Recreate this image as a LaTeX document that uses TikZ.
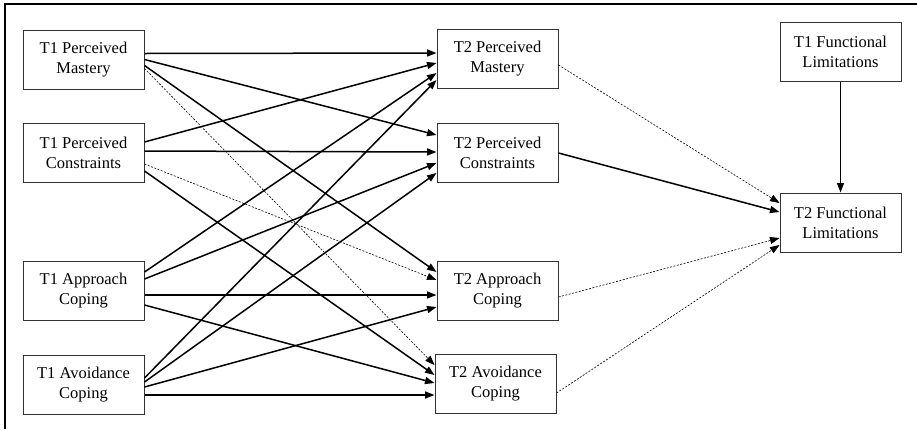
\documentclass[tikz,border=0pt]{standalone}
\usepackage{fontspec}
\setmainfont{Liberation Serif}
\usetikzlibrary{arrows.meta}
\usetikzlibrary{calc}
\tikzset{
	varnode/.style = {align=center, inner sep=0pt, text centered,
		font=\fontsize{16.5}{20}\selectfont},
	var_box/.style = {varnode, rectangle, draw=black!80, line width=1pt,
		minimum width=121pt, minimum height=59pt},% boite de variable
	path_s/.style = {->, line width=1.5pt},% chemin significatif
	path_ns/.style = {->, dash pattern=on 2pt off 1.5pt, line width=0.6pt}% chemin non significatif
}

\begin{document}
\begin{tikzpicture}[x=1pt,y=-1pt,>={Triangle[length=9.5pt,width=7pt]}]
		\useasboundingbox (0,0) rectangle (917,429);
		\draw[line width=2.3pt] (917,4) -- (5,4) -- (5,429);
		% temps 1
		\node[var_box] (pm1) at (83.5,59.5) {T1 Perceived\\Mastery};
		\node[var_box] (pc1) at (83.5,153) {T1 Perceived\\Constraints};
		\node[var_box] (ac1) at (83.5,291) {T1 Approach\\Coping};
		\node[var_box] (av1) at (83.5,384.5) {T1 Avoidance\\Coping};
		% temps 2
		\node[var_box] (pm2) at (497.5,58.5) {T2 Perceived\\Mastery};
		\node[var_box] (pc2) at (497.5,152.5) {T2 Perceived\\Constraints};
		\node[var_box] (ac2) at (497.5,291) {T2 Approach\\Coping};
		\node[var_box] (av2) at (495.5,383.5) {T2 Avoidance\\Coping};
		% limitations
		\node[var_box] (fl1) at (840.5,51.5) {T1 Functional\\Limitations};
		\node[var_box] (fl2) at (840.5,222.5) {T2 Functional\\Limitations};
		
		\draw[path_s] ($(pm1.east)+(0,-6)$) -- ($(pm2.west)+(0,-5.5)$);
		\draw[path_s] ($(pm1.east)+(0,0)$) -- ($(pc2.west)+(0,-17.5)$);
		\draw[path_s] ($(pm1.east)+(0,6)$) -- ($(ac2.west)+(0,-19)$);
		\draw[path_ns] ($(pm1.east)+(0,9)$) -- ($(av2.west)+(0,-18.5)$);
		
		\draw[path_s] ($(pc1.east)+(0,-11)$) -- ($(pm2.west)+(0,4.5)$);
		\draw[path_s] ($(pc1.east)+(0,-2)$) -- ($(pc2.west)+(0,-0.5)$);
		\draw[path_ns] ($(pc1.east)+(0,11)$) -- ($(ac2.west)+(0,-11)$);
		\draw[path_s] ($(pc1.east)+(0,18)$) -- ($(av2.west)+(0,-8.5)$);
		
		\draw[path_s] ($(ac1.east)+(0,-19)$) -- ($(pm2.west)+(0,14.5)$);
		\draw[path_s] ($(ac1.east)+(0,-12)$) -- ($(pc2.west)+(0,10.5)$);
		\draw[path_s] ($(ac1.east)+(0,4)$) -- ($(ac2.west)+(0,4)$);
		\draw[path_s] ($(ac1.east)+(0,14)$) -- ($(av2.west)+(0,-0.5)$);
		
		\draw[path_s] ($(av1.east)+(0,-6.5)$) -- ($(pm2.west)+(0,21.5)$);
		\draw[path_s] ($(av1.east)+(0,-2.5)$) -- ($(pc2.west)+(0,20.5)$);
		\draw[path_s] ($(av1.east)+(0,2.5)$) -- ($(ac2.west)+(0,16)$);
		\draw[path_s] ($(av1.east)+(0,10.5)$) -- ($(av2.west)+(0,11.5)$);
		
		\draw[path_ns] ($(pm2.east)+(0,6.5)$) -- ($(fl2.west)+(0,-19.5)$);
		\draw[path_s] ($(pc2.east)+(0,0.5)$) -- ($(fl2.west)+(0,-10.5)$);
		\draw[path_ns] ($(ac2.east)+(0,6)$) -- ($(fl2.west)+(0,15.5)$);
		\draw[path_ns] ($(av2.east)+(0,9.5)$) -- ($(fl2.west)+(0,22.5)$);
		\draw[path_s] (fl1.south) -- (fl2.north);
\end{tikzpicture}
\end{document}
